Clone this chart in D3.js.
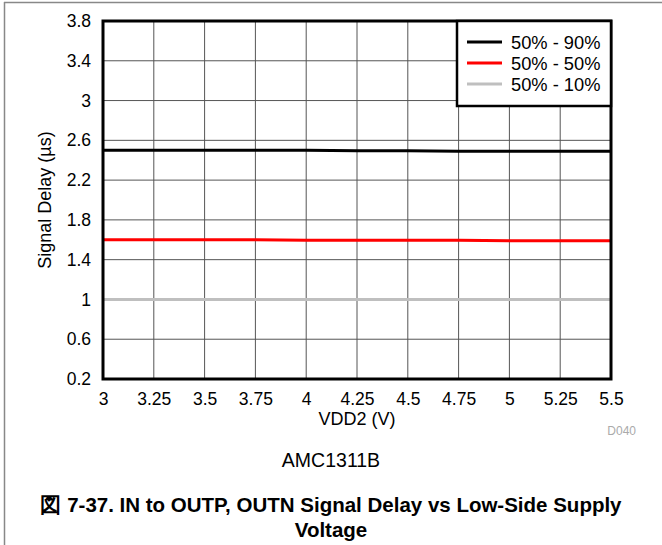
<!DOCTYPE html>
<html><head><meta charset="utf-8">
<script src="https://cdn.jsdelivr.net/npm/d3@7"></script>
<style>body{margin:0;background:#fff}svg{display:block;font-family:"Liberation Sans",Arial,sans-serif}</style>
</head><body>
<svg id="c" width="662" height="545"></svg>
<script>
const xValues = [3, 3.25, 3.5, 3.75, 4, 4.25, 4.5, 4.75, 5, 5.25, 5.5];
const delay50to90 = [2.50, 2.50, 2.50, 2.50, 2.50, 2.495, 2.495, 2.49, 2.49, 2.49, 2.49];
const delay50to50 = [1.60, 1.60, 1.60, 1.60, 1.595, 1.595, 1.595, 1.595, 1.59, 1.59, 1.59];
const delay50to10 = [1.00, 1.00, 1.00, 1.00, 1.00, 1.00, 1.00, 1.00, 1.00, 1.00, 1.00];
const seriesNames = ["50% - 90%", "50% - 50%", "50% - 10%"];
const seriesColors = ["#000000", "#ff0000", "#bfbfbf"];
const xTicks = [3, 3.25, 3.5, 3.75, 4, 4.25, 4.5, 4.75, 5, 5.25, 5.5];
const yTicks = [0.2, 0.6, 1, 1.4, 1.8, 2.2, 2.6, 3, 3.4, 3.8];

const svg = d3.select("#c");
const L = 103, R = 611, T = 21, B = 379;
const x = d3.scaleLinear().domain([3, 5.5]).range([L, R]);
const y = d3.scaleLinear().domain([0.2, 3.8]).range([B, T]);
const FF = "Liberation Sans, Arial, sans-serif";

// outer frame
svg.append("line").attr("x1", 4.5).attr("x2", 4.5).attr("y1", 2).attr("y2", 545).attr("stroke", "#888").attr("stroke-width", 1.5);
svg.append("line").attr("x1", 4).attr("x2", 662).attr("y1", 2.5).attr("y2", 2.5).attr("stroke", "#888").attr("stroke-width", 1.5);

// grid
const g = svg.append("g");
g.selectAll(".vg").data(xTicks).join("line")
  .attr("x1", d => x(d)).attr("x2", d => x(d)).attr("y1", T).attr("y2", B)
  .attr("stroke", "#555").attr("stroke-width", 1);
g.selectAll(".hg").data(yTicks).join("line")
  .attr("x1", L).attr("x2", R).attr("y1", d => y(d)).attr("y2", d => y(d))
  .attr("stroke", "#555").attr("stroke-width", 1);

// axes
const xAxis = svg.append("g").attr("transform", `translate(0,${B})`)
  .call(d3.axisBottom(x).tickValues(xTicks).tickSize(0).tickPadding(14).tickFormat(d3.format("~g")));
xAxis.select(".domain").remove();
xAxis.selectAll("text").attr("font-size", 17.5).attr("fill", "#000").attr("font-family", FF);
const yAxis = svg.append("g").attr("transform", `translate(${L},0)`)
  .call(d3.axisLeft(y).tickValues(yTicks).tickSize(0).tickPadding(12).tickFormat(d3.format("~g")));
yAxis.select(".domain").remove();
yAxis.selectAll("text").attr("font-size", 17.5).attr("fill", "#000").attr("font-family", FF);

// series
const allSeries = [delay50to90, delay50to50, delay50to10];
const line = d3.line().x((d, i) => x(xValues[i])).y(d => y(d));
allSeries.forEach((s, k) => {
  svg.append("path").datum(s).attr("d", line).attr("fill", "none")
    .attr("stroke", seriesColors[k]).attr("stroke-width", 3);
});

// plot border
svg.append("rect").attr("x", L).attr("y", T).attr("width", R - L).attr("height", B - T)
  .attr("fill", "none").attr("stroke", "#000").attr("stroke-width", 3);

// legend
const lg = svg.append("g");
lg.append("rect").attr("x", 457).attr("y", T).attr("width", R - 457).attr("height", 85)
  .attr("fill", "#fff").attr("stroke", "#000").attr("stroke-width", 2.5);
seriesNames.forEach((n, k) => {
  const yy = 42 + k * 21;
  lg.append("line").attr("x1", 467).attr("x2", 502).attr("y1", yy).attr("y2", yy)
    .attr("stroke", seriesColors[k]).attr("stroke-width", 3);
  lg.append("text").attr("x", 511).attr("y", yy + 6.5).attr("font-size", 18.3).text(n);
});

// titles
svg.append("text").attr("transform", `translate(51,${(T + B) / 2}) rotate(-90)`)
  .attr("text-anchor", "middle").attr("font-size", 18).text("Signal Delay (µs)");
svg.append("text").attr("x", (L + R) / 2).attr("y", 425).attr("text-anchor", "middle")
  .attr("font-size", 18).text("VDD2 (V)");
svg.append("text").attr("x", 636).attr("y", 435).attr("text-anchor", "end")
  .attr("font-size", 12).attr("fill", "#aaa").text("D040");
svg.append("text").attr("x", 331).attr("y", 467).attr("text-anchor", "middle")
  .attr("font-size", 19.5).text("AMC1311B");
svg.append("text").attr("x", 331).attr("y", 512).attr("text-anchor", "middle")
  .attr("font-size", 20.5).attr("font-weight", "bold").text("図 7-37. IN to OUTP, OUTN Signal Delay vs Low-Side Supply");
svg.append("text").attr("x", 331).attr("y", 537).attr("text-anchor", "middle")
  .attr("font-size", 20.5).attr("font-weight", "bold").text("Voltage");
</script>
</body></html>
